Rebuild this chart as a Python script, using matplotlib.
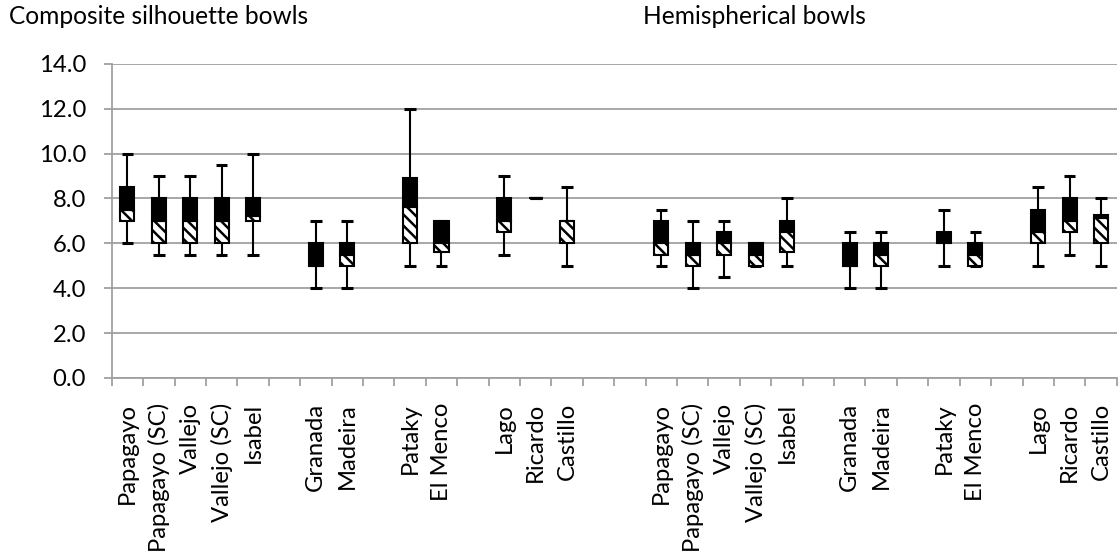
import matplotlib.pyplot as plt
import numpy as np

# --- DATA ('' marks an empty gap slot) ---
slots = ['Papagayo', 'Papagayo (SC)', 'Vallejo', 'Vallejo (SC)', 'Isabel', '',
         'Granada', 'Madeira', '', 'Pataky', 'El Menco', '',
         'Lago', 'Ricardo', 'Castillo', '', '',
         'Papagayo', 'Papagayo (SC)', 'Vallejo', 'Vallejo (SC)', 'Isabel', '',
         'Granada', 'Madeira', '', 'Pataky', 'El Menco', '',
         'Lago', 'Ricardo', 'Castillo']

nan = np.nan
mins = [6.0, 5.5, 5.5, 5.5, 5.5, nan, 4.0, 4.0, nan, 5.0, 5.0, nan, 5.5, 8.0, 5.0, nan, nan,
        5.0, 4.0, 4.5, 5.0, 5.0, nan, 4.0, 4.0, nan, 5.0, 5.0, nan, 5.0, 5.5, 5.0]
q1s = [7.0, 6.0, 6.0, 6.0, 7.0, nan, 5.0, 5.0, nan, 6.0, 5.6, nan, 6.5, 8.0, 6.0, nan, nan,
       5.5, 5.0, 5.5, 5.0, 5.6, nan, 5.0, 5.0, nan, 6.0, 5.0, nan, 6.0, 6.5, 6.0]
medians = [7.5, 7.0, 7.0, 7.0, 7.2, nan, 5.0, 5.5, nan, 7.6, 6.0, nan, 7.0, 8.0, 7.0, nan, nan,
           6.0, 5.5, 6.0, 5.5, 6.5, nan, 5.0, 5.5, nan, 6.0, 5.5, nan, 6.5, 7.0, 7.15]
q3s = [8.5, 8.0, 8.0, 8.0, 8.0, nan, 6.0, 6.0, nan, 8.9, 7.0, nan, 8.0, 8.0, 7.0, nan, nan,
       7.0, 6.0, 6.5, 6.0, 7.0, nan, 6.0, 6.0, nan, 6.5, 6.0, nan, 7.5, 8.0, 7.25]
maxs = [10.0, 9.0, 9.0, 9.5, 10.0, nan, 7.0, 7.0, nan, 12.0, 7.0, nan, 9.0, 8.0, 8.5, nan, nan,
        7.5, 7.0, 7.0, 6.0, 8.0, nan, 6.5, 6.5, nan, 7.5, 6.5, nan, 8.5, 9.0, 8.0]

group_titles = ['Composite silhouette bowls', 'Hemispherical bowls']
y_ticks = [0, 2, 4, 6, 8, 10, 12, 14]

# --- PLOTTING ---
plt.rcParams['font.family'] = 'Lato'
plt.rcParams['hatch.linewidth'] = 1.8
grid_grey = '#A0A0A0'

fig = plt.figure(figsize=(11.18, 5.6), dpi=100)
ax = fig.add_axes([0.0999, 0.325, 0.899, 0.561])
renderer = fig.canvas.get_renderer()


def fit_size(text, target_px, start=14):
    # pick a font size so the string spans about target_px pixels
    t = fig.text(0, 0, text, fontsize=start)
    w = t.get_window_extent(renderer).width
    t.remove()
    return start * target_px / w


label_size = fit_size('Papagayo (SC)', 150)
title_size = fit_size(group_titles[0], 300)

x = np.arange(len(slots))
mins, q1s, medians, q3s, maxs = map(np.array, (mins, q1s, medians, q3s, maxs))
box_w = 0.45
cap_w = 0.37

# whiskers
ax.vlines(x, mins, maxs, color='black', lw=1.5, zorder=2)
ax.hlines(maxs, x - cap_w / 2, x + cap_w / 2, color='black', lw=2.2, zorder=2)
ax.hlines(mins, x - cap_w / 2, x + cap_w / 2, color='black', lw=2.2, zorder=2)

# lower box (hatched) and upper box (solid black)
ax.bar(x, medians - q1s, bottom=q1s, width=box_w, facecolor='white',
       edgecolor='black', hatch='\\\\\\', lw=1.5, zorder=3)
ax.bar(x, q3s - medians, bottom=medians, width=box_w, facecolor='black',
       edgecolor='black', lw=1.5, zorder=3)

# axes styling
ax.set_xlim(-0.5, len(slots) - 0.5)
ax.set_ylim(0, 14)
ax.set_yticks(y_ticks)
ax.set_yticklabels([f'{v:.1f}' for v in y_ticks])
ax.yaxis.grid(True, color=grid_grey, lw=1.3)
ax.set_axisbelow(True)

ax.set_xticks(x)
ax.set_xticklabels(slots, rotation=90, va='top', ha='center')
ax.set_xticks(np.arange(len(slots) + 1) - 0.5, minor=True)
ax.tick_params(axis='x', which='major', length=0, pad=18, labelsize=label_size)
ax.tick_params(axis='x', which='minor', length=5.5, width=1.3, color=grid_grey)
ax.tick_params(axis='y', length=5.5, width=1.3, color=grid_grey, pad=13, labelsize=label_size)

for side in ['top', 'right']:
    ax.spines[side].set_visible(False)
for side in ['left', 'bottom']:
    ax.spines[side].set_color(grid_grey)
    ax.spines[side].set_linewidth(1.3)

fig.text(9 / 1118, 1 - 24 / 560, group_titles[0], fontsize=title_size, va='baseline', ha='left')
fig.text(643 / 1118, 1 - 24 / 560, group_titles[1], fontsize=title_size, va='baseline', ha='left')

fig.savefig('out.png', dpi=100)
